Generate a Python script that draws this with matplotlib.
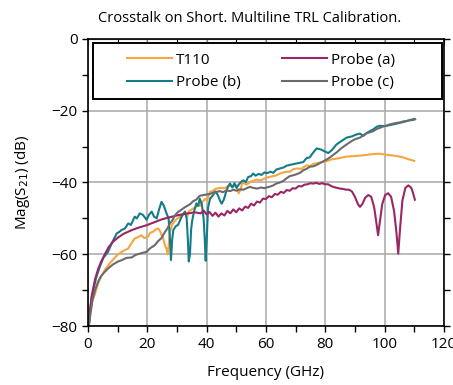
import matplotlib.pyplot as plt
import numpy as np
from matplotlib.patches import Rectangle

# T110 (orange)
t110_f = [0.3, 0.8, 1.5, 2.4, 3.5, 4.6, 6, 7.4, 9, 10.2, 12, 13.6, 15, 15.8, 17, 18.1, 19, 20.4, 21, 22,
          23, 23.7, 24.3, 25, 25.4, 26, 26.5, 26.9, 27.3, 27.6, 28.3, 29, 29.9, 31, 32, 32.7, 33.5, 34, 35, 36,
          37, 37.8, 38.5, 39.5, 40.2, 41.1, 42.2, 43, 44.5, 46, 47.5, 49, 50, 50.8, 51.5, 52, 53.5, 55, 56.9, 58.3,
          60, 62, 63.6, 65, 67, 68.1, 69.2, 70.3, 72, 73.7, 74.8, 76, 78, 80, 82, 84.9, 87, 90.6, 93, 95,
          97.3, 98.4, 100, 101.8, 104, 106.2, 108, 110]
t110_db = [-80, -76, -73, -71, -68, -66, -64, -62.5, -61, -60, -59, -58.4, -56.5, -55.6, -55.2, -54.7, -55.5, -55, -54, -53.7,
           -53, -52.8, -53.5, -55, -55.6, -57.6, -58.5, -60, -57, -54, -52, -51, -50.2, -49.5, -48.8, -48.3, -49.5, -48, -47.5, -47,
           -46.5, -46.5, -45.5, -44.6, -45, -42.6, -42.3, -41.8, -41.5, -41.6, -41, -41, -40.8, -43, -42, -40, -40.6, -39.7, -39.2, -39.4,
           -38.7, -38.3, -38, -37.4, -37, -37, -36.3, -36.1, -36.2, -35.2, -35.5, -34.8, -34.5, -34.2, -33.6, -33.2, -32.8, -32.6, -32.4, -32.2,
           -32, -32, -32.2, -32.4, -32.6, -33, -33.5, -34]

# Probe (a) (magenta)
pa_f = [0.3, 0.7, 1.2, 2.4, 3.5, 4.5, 5.7, 7, 8.5, 10.2, 12, 14.7, 17, 19.8, 22, 24.8, 27, 30.4, 33, 36,
        38, 39, 40, 41, 42, 43, 44, 45, 46, 47, 48, 49, 50, 51, 52, 53, 54, 55, 56, 57,
        58, 59, 60, 61, 62, 63, 64, 65, 66, 67, 68, 69, 70, 71, 72, 73, 74, 75, 76, 77,
        78, 79, 80, 81, 82, 83, 84, 85, 86, 87, 88, 89, 90, 91, 91.7, 92.5, 93.5, 94.5, 95.5, 96.5,
        97.2, 97.8, 98.4, 99.2, 100.2, 101.2, 102.2, 103.2, 104, 104.6, 105.2, 106, 107, 108, 109, 109.6, 110.2]
pa_db = [-80, -76, -72, -67, -64, -62, -60, -58, -56.5, -55.3, -54.3, -53.3, -52.6, -51.9, -51.2, -50.3, -49.8, -49.1, -48.7, -48.3,
         -48.6, -47.8, -48.9, -48.2, -49.3, -48.4, -49.5, -48.6, -49.2, -47.9, -48.6, -47.5, -48.3, -47.2, -47.8, -46.7, -47.1, -45.9, -46.4, -45.3,
         -45.6, -44.5, -44.6, -43.8, -44.1, -43.2, -43.4, -42.6, -42.9, -42.1, -42.3, -41.6, -41.7, -41.0, -41.1, -40.6, -40.5, -40.2, -40.3, -40.1,
         -40.4, -40.2, -40.5, -40.5, -41.0, -41.3, -41.5, -41.7, -41.8, -42, -42, -42.5, -44, -46, -46.8, -46, -44.2, -43.5, -44, -47,
         -51, -54.7, -51, -46, -43.5, -43, -44, -48, -54, -59.8, -53, -45, -41.5, -40.8, -41.5, -43, -44.8]

# Probe (b) (teal)
pb_f = [0.3, 0.8, 1.8, 2.8, 4, 5.2, 6.8, 8, 9.7, 10.5, 11.4, 12.5, 13.6, 14.5, 15.8, 16.5, 17.5, 18.5, 19.8, 20.6,
        21.5, 22.3, 23.2, 24, 24.8, 25.6, 26.5, 27.2, 27.6, 28, 28.4, 28.8, 29.6, 30.4, 31.6, 32.7, 33.3, 33.7, 34, 34.4,
        34.8, 35.2, 35.8, 36.6, 37.2, 37.7, 38.4, 39, 39.4, 39.7, 40.1, 40.5, 41.2, 42.2, 43, 43.8, 44.5, 45.1, 45.8, 46.6,
        47.3, 47.9, 48.7, 49.4, 50.1, 51, 51.7, 52.4, 53.2, 54, 55, 55.7, 56.5, 57.5, 58.5, 59.5, 60.5, 61.5, 62.5, 63.5,
        64.7, 66, 67, 68.1, 69.2, 70.3, 71.5, 72.6, 73.7, 74.8, 75.8, 77.1, 78.5, 79.5, 81, 82.2, 83.8, 85.2, 87.2, 88.8,
        90.6, 91.7, 92.8, 94, 95.2, 96.2, 97.3, 98.4, 99.5, 100.6, 101.8, 103, 104, 105.5, 107, 108.5, 110]
pb_db = [-80, -75, -70, -66.5, -63.5, -61, -59.3, -57, -54.2, -53.8, -53.2, -52.8, -51.4, -51.8, -49.5, -50, -48.6, -49, -50.4, -49,
         -48.1, -49.5, -50, -47.5, -45.4, -46.5, -48.6, -50, -55, -61.6, -56, -53.2, -52.2, -51.8, -49.5, -48.1, -50, -56, -62, -60,
         -53, -50.4, -48, -45.8, -46.5, -44.5, -46, -50, -56, -61.8, -55, -47, -44.5, -43.5, -42.5, -43.5, -45, -45.9, -44.8, -42.6,
         -41, -40.3, -41.4, -40.2, -41.5, -40.4, -39.8, -39.4, -39.9, -38.5, -38.2, -37.5, -38.1, -37.6, -37.9, -37.2, -37.4, -37, -37.3, -36.4,
         -36.1, -35.8, -35.3, -35.1, -34.9, -34.7, -34.5, -34.3, -33.2, -33, -31.8, -30.5, -30.8, -31.2, -31.8, -31, -29.4, -28.6, -27.5, -27.2,
         -26.6, -26.4, -27, -26.2, -25.6, -25.2, -24.5, -24.2, -24.3, -24.2, -24, -23.8, -23.6, -23.3, -23, -22.6, -22.3]

# Probe (c) (gray)
pc_f = [0.3, 0.8, 1.5, 2.4, 3.5, 4.5, 5.7, 7, 8.5, 10.2, 11.5, 13, 14.7, 16, 17.5, 19.8, 21, 22.5, 23.7, 24.8,
        25.8, 26.8, 27.6, 28.5, 29.5, 30.4, 31.5, 32.5, 33.5, 34.5, 35.5, 36.5, 37.7, 39, 40.2, 41.1, 42.2, 43.5, 44.5, 45.5,
        46.7, 48, 49, 50, 51.2, 52.5, 53.5, 54.6, 55.7, 57, 58.3, 59.5, 60.5, 61.2, 62.5, 63.5, 64.7, 65.8, 67, 68.1,
        69.2, 70.3, 71.5, 72.6, 73.7, 74.8, 76, 77.1, 78.2, 79.3, 80.5, 81.6, 82.7, 84, 85.2, 86, 87.2, 88.3, 89.4, 90.6,
        91.7, 92.8, 94, 95.1, 96.2, 97.3, 98.4, 99.5, 100.6, 101.8, 103, 104, 105.1, 106.2, 107.3, 108.4, 109.6, 110.3]
pc_db = [-80, -77, -73, -70, -67.5, -66, -64.9, -63.8, -62.8, -62, -61.6, -61, -60.9, -60.2, -59.8, -59.3, -58.3, -57.5, -56.3, -55.5,
         -54, -52.8, -51.5, -50.5, -49, -48.2, -47.6, -47, -46.5, -46, -45.2, -44.8, -43.7, -43.5, -43.3, -43.2, -42.8, -42.6, -42.4, -42.7,
         -42.2, -42.4, -42, -42.3, -41.9, -42, -41.6, -41.2, -41.5, -41.7, -41.4, -41.6, -41.3, -41.2, -40.8, -40.3, -40, -39.6, -38.8, -38.2,
         -38, -37.7, -37.3, -36.6, -36.2, -35.6, -35.5, -35.1, -34.6, -34.1, -33.6, -33, -32.3, -31.5, -30.6, -30.1, -29.4, -28.8, -28.2, -27.8,
         -27.5, -26.9, -26.3, -26, -25.7, -25.1, -24.8, -24.4, -24.2, -23.8, -23.6, -23.4, -23.3, -23, -22.9, -22.7, -22.6, -22.4]

plt.rcParams['font.family'] = ['Open Sans', 'DejaVu Sans']

fig = plt.figure(figsize=(4.53, 3.85), dpi=100)
ax = fig.add_axes([0.194, 0.153, 0.786, 0.746])

ax.plot(t110_f, t110_db, color='#F7A540', lw=1.5, label='T110')
ax.plot(pb_f, pb_db, color='#137C88', lw=1.5, label='Probe (b)')
ax.plot(pa_f, pa_db, color='#9A2664', lw=1.5, label='Probe (a)')
ax.plot(pc_f, pc_db, color='#6B6B6B', lw=1.5, label='Probe (c)')

ax.set_xlim(0, 120)
ax.set_ylim(-80, 0)
ax.set_xticks(np.arange(0, 121, 20))
ax.set_yticks(np.arange(-80, 1, 20))
ax.set_xticks(np.arange(10, 120, 20), minor=True)
ax.set_yticks(np.arange(-70, 0, 20), minor=True)
ax.grid(True, which='major', color='#A8A8A8', lw=1.1)
ax.set_axisbelow(True)
ax.tick_params(which='both', direction='out', length=4, width=1, labelsize=11, right=True)
for s in ax.spines.values():
    s.set_linewidth(1.2)

top = ax.secondary_xaxis('top')
top.set_xticks(np.arange(0, 121, 10))
top.tick_params(direction='in', length=4, labeltop=False)

ax.set_xlabel('Frequency (GHz)', fontsize=11, labelpad=10)
ax.set_ylabel('Mag(S$_{21}$) (dB)', fontsize=11, labelpad=14)
ax.set_title('Crosstalk on Short. Multiline TRL Calibration.', fontsize=10.5, pad=12, x=0.455)

# legend box drawn separately, entries centred inside it
box = Rectangle((0.013, 0.79), 0.981, 0.195, transform=ax.transAxes, facecolor='white',
                edgecolor='black', lw=1.4, zorder=4)
ax.add_patch(box)
leg = ax.legend(ncol=2, loc='center', bbox_to_anchor=(0.487, 0.886), frameon=False,
                fontsize=11, handlelength=2.95, handletextpad=0.26, columnspacing=2.7,
                labelspacing=0.5, borderaxespad=0)
leg.set_zorder(5)

fig.savefig('out.png', dpi=100)
